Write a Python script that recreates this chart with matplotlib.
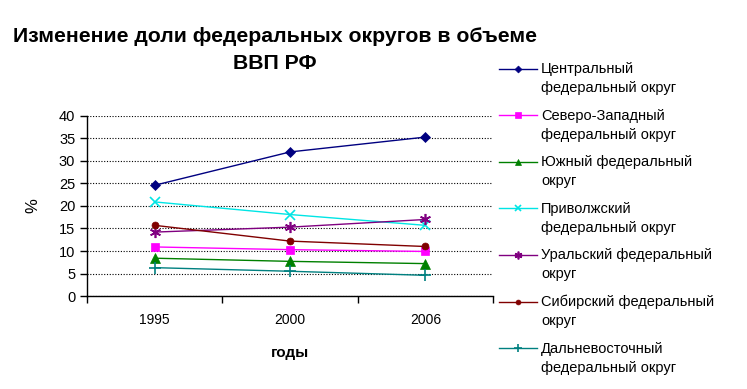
import matplotlib.pyplot as plt
from matplotlib.ticker import FixedLocator
from matplotlib.lines import Line2D
from matplotlib.legend_handler import HandlerLine2D

plt.rcParams['font.family'] = ['Liberation Sans', 'DejaVu Sans']

years = ['1995', '2000', '2006']
names = ['Центральный\nфедеральный округ',
         'Северо-Западный\nфедеральный округ',
         'Южный федеральный\nокруг',
         'Приволжский\nфедеральный округ',
         'Уральский федеральный\nокруг',
         'Сибирский федеральный\nокруг',
         'Дальневосточный\nфедеральный округ']
central = [24.6, 32.0, 35.3]
north_west = [10.9, 10.3, 9.9]
south = [8.4, 7.7, 7.2]
volga = [20.9, 18.1, 15.7]
ural = [14.2, 15.3, 17.0]
siberia = [15.7, 12.2, 11.0]
far_east = [6.3, 5.5, 4.6]

series = [central, north_west, south, volga, ural, siberia, far_east]
colors = ['#000080', '#ff00ff', '#008000', '#00e5e5', '#800080', '#800000', '#008080']
markers = ['D', 's', '^', 'x', (6, 2, 0), 'o', '+']
msizes = [5, 6, 7, 7, 8, 5, 8]


# legend handle next to the first line of a two-line label
class FirstLineHandler(HandlerLine2D):
    def create_artists(self, legend, orig_handle, xdescent, ydescent,
                       width, height, fontsize, trans):
        arts = super().create_artists(legend, orig_handle, xdescent, ydescent,
                                      width, height, fontsize, trans)
        for a in arts:
            a.set_ydata([y + 7.4 for y in a.get_ydata()])
        return arts


fig = plt.figure(figsize=(7.47, 3.89), dpi=100)
ax = fig.add_axes([0.1165, 0.239, 0.5435, 0.463])

x = range(len(years))
for vals, name, c, m, ms in zip(series, names, colors, markers, msizes):
    ax.plot(x, vals, color=c, marker=m, markersize=ms, linewidth=1,
            markeredgewidth=1.2 if m in ('x', '+') or isinstance(m, tuple) else 0.5,
            label=name)

ax.set_xlim(-0.5, 2.5)
ax.set_ylim(0, 40)
ax.set_yticks(range(0, 41, 5))
ax.set_xticks(list(x))
ax.set_xticklabels(years, fontsize=10)
ax.xaxis.set_minor_locator(FixedLocator([-0.5, 0.5, 1.5, 2.5]))
ax.tick_params(axis='x', which='major', length=0, pad=12)
ax.tick_params(axis='x', which='minor', length=5, width=1)
ax.tick_params(axis='y', length=5, width=1, labelsize=10.5)
ax.yaxis.grid(True, linestyle=(0, (1, 1.5)), color='black', linewidth=0.8)
for s in ('top', 'right'):
    ax.spines[s].set_visible(False)
ax.spines['left'].set_linewidth(1)
ax.spines['bottom'].set_linewidth(1)

ax.set_ylabel('%', fontsize=12)
ax.yaxis.set_label_coords(-0.115, 0.5)
ax.set_xlabel('годы', fontsize=11, fontweight='bold', labelpad=14)

fig.text(0.368, 0.872, 'Изменение доли федеральных округов в объеме\nВВП РФ',
         ha='center', va='center', fontsize=15.3, fontweight='bold', linespacing=1.5)

leg = ax.legend(loc='upper left', bbox_to_anchor=(1.0, 1.33), frameon=False,
                fontsize=10.5, handlelength=2.6, handletextpad=0.3,
                labelspacing=0.93, borderaxespad=0, markerscale=0.7,
                handler_map={Line2D: FirstLineHandler()})
for t in leg.get_texts():
    t.set_linespacing(1.45)

fig.savefig('out.png', dpi=100)
